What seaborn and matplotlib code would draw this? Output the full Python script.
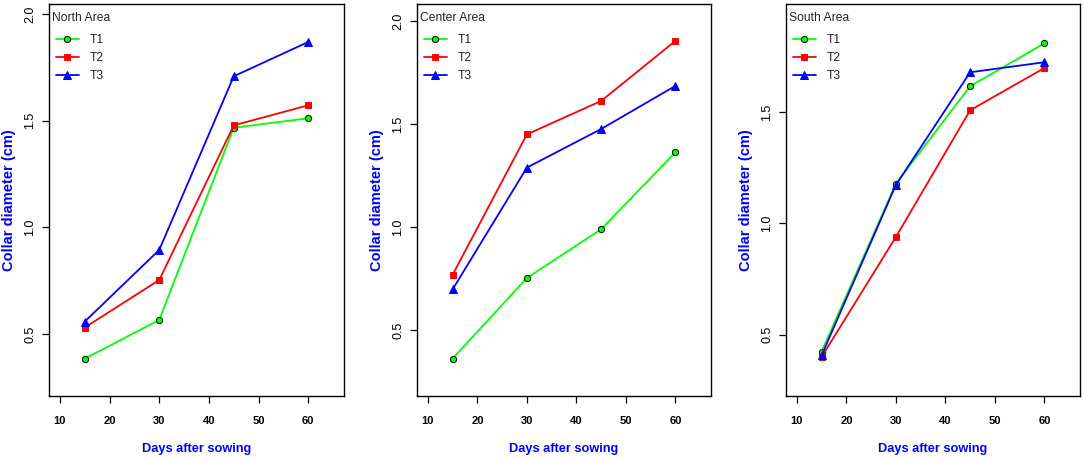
import matplotlib
matplotlib.use("Agg")
import matplotlib.pyplot as plt
from matplotlib import font_manager
import pandas as pd
import seaborn as sns

# Data
days = [15, 30, 45, 60]
treatments = ["T1", "T2", "T3"]
areas = ["North Area", "Center Area", "South Area"]

north_t1 = [0.384, 0.566, 1.467, 1.511]
north_t2 = [0.530, 0.753, 1.478, 1.572]
north_t3 = [0.558, 0.894, 1.708, 1.869]

center_t1 = [0.363, 0.754, 0.990, 1.363]
center_t2 = [0.770, 1.450, 1.612, 1.903]
center_t3 = [0.699, 1.289, 1.476, 1.685]

south_t1 = [0.424, 1.179, 1.617, 1.810]
south_t2 = [0.400, 0.939, 1.509, 1.699]
south_t3 = [0.407, 1.173, 1.680, 1.725]

values = {
    "North Area": [north_t1, north_t2, north_t3],
    "Center Area": [center_t1, center_t2, center_t3],
    "South Area": [south_t1, south_t2, south_t3],
}

y_limits = {
    "North Area": (0.209, 2.047),
    "Center Area": (0.182, 2.082),
    "South Area": (0.224, 1.987),
}
y_ticks = {
    "North Area": [0.5, 1.0, 1.5, 2.0],
    "Center Area": [0.5, 1.0, 1.5, 2.0],
    "South Area": [0.5, 1.0, 1.5],
}

colors = {"T1": "#00ff00", "T2": "#ff0000", "T3": "#0000ff"}
markers = {"T1": "o", "T2": "s", "T3": "^"}
edges = {"T1": "black", "T2": "#ff0000", "T3": "#0000ff"}
msizes = {"T1": 4.5, "T2": 5, "T3": 5.5}

# long-form table
rows = []
for area in areas:
    for t, series in zip(treatments, values[area]):
        for d, v in zip(days, series):
            rows.append({"area": area, "treatment": t, "days": d, "diameter": v})
df = pd.DataFrame(rows)

sns.set_style("ticks")
names = {f.name for f in font_manager.fontManager.ttflist}
base_font = "Liberation Sans" if "Liberation Sans" in names else "DejaVu Sans"
plt.rcParams["font.family"] = [base_font, "DejaVu Sans"]

fig = plt.figure(figsize=(10.84, 4.58), dpi=100)
W, H = 1084, 458
boxes = [(49, 295), (417, 294), (786, 294)]
top_px, bottom_px = 4, 396
box_h = bottom_px - top_px

for area, (left, width) in zip(areas, boxes):
    ax = fig.add_axes([left / W, (H - bottom_px) / H, width / W, box_h / H])
    sub = df[df["area"] == area]
    for t in treatments:
        d = sub[sub["treatment"] == t]
        sns.lineplot(data=d, x="days", y="diameter", ax=ax, color=colors[t],
                     marker=markers[t], markersize=msizes[t],
                     markeredgecolor=edges[t], markeredgewidth=0.7,
                     linewidth=1.3, label=t)
    ax.set_xlim(7.8, 67.2)
    ax.set_ylim(*y_limits[area])
    ax.set_xticks([10, 20, 30, 40, 50, 60])
    ax.set_yticks(y_ticks[area])
    ax.set_yticklabels([f"{v:.1f}" for v in y_ticks[area]], rotation=90, va="center")
    for lab in ax.get_xticklabels():
        lab.set_fontweight("bold")
        lab.set_fontsize(8)
    for lab in ax.get_yticklabels():
        lab.set_fontsize(9)
    ax.tick_params(axis="both", direction="out", length=5.3, width=0.9, colors="black")
    ax.tick_params(axis="x", pad=9)
    ax.tick_params(axis="y", pad=4)
    for s in ax.spines.values():
        s.set_visible(True)
        s.set_linewidth(1.0)
        s.set_color("black")

    ax.set_xlabel("Days after sowing", color="#0000ff", fontweight="bold",
                  fontsize=9.2, labelpad=12)
    ax.set_ylabel("Collar diameter (cm)", color="#0000ff", fontweight="bold",
                  fontsize=10.5, labelpad=5.5)

    ax.text(3 / width, 1 - 14 / box_h, area, transform=ax.transAxes,
            fontsize=8.7, va="center", ha="left")
    ax.legend(loc="upper left", bbox_to_anchor=(7 / width, 1 - 30 / box_h),
              frameon=False, prop={"size": 8.7},
              handlelength=1.9, handletextpad=0.9,
              labelspacing=0.5, borderaxespad=0, borderpad=0)

fig.savefig("out.png", dpi=100)
